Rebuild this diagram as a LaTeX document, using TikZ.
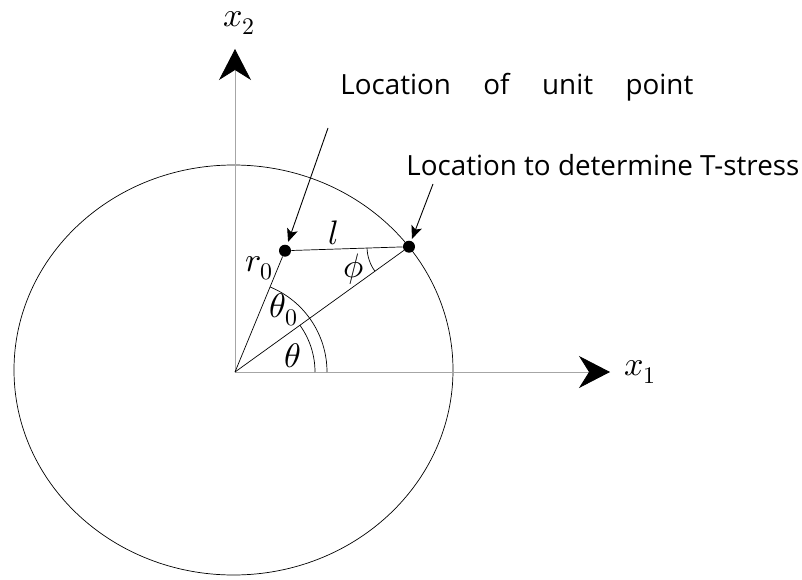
\documentclass[tikz,border=0pt]{standalone}
\usepackage{fontspec}
\usepackage{unicode-math}
\setmainfont{Open Sans}
\usetikzlibrary{arrows.meta}
\tikzset{
    axisline/.style={
        draw=gray!70,
        line width=0.8pt,
        -{Stealth[length=31pt,width=32pt,inset=10pt,color=black]}
    },
    pointer/.style={
        draw=black,
        line width=0.9pt,
        -{Stealth[length=13pt,width=11pt,inset=3pt]}
    },
    marker/.style={
        circle,
        fill=black,
        inner sep=0pt,
        minimum size=12pt
    },
    mathlabel/.style={
        font=\fontsize{34}{38}\selectfont,
        inner sep=1pt
    },
    notelabel/.style={
        font=\fontsize{27.8}{32}\selectfont,
        inner sep=0pt,
        anchor=base west
    }
}

\begin{document}
\begin{tikzpicture}[x=1pt,y=1pt,line width=0.7pt]
\useasboundingbox (-235,-207) rectangle (567,372);

% ---------------------------------------------------------
% Boundary and axes
% ---------------------------------------------------------
\coordinate (O) at (0,0);
\coordinate (x1end) at (375,0);
\coordinate (x2end) at (0,323);

\draw (-1.5,2) ellipse [x radius=219.5, y radius=205];

\draw[axisline] (O) -- (x1end);
\draw[axisline] (O) -- (x2end);

\node[mathlabel] (x1lab) at (405,0) {$x_1$};
\node[mathlabel] (x2lab) at (4,349) {$x_2$};

% ---------------------------------------------------------
% Points and triangle
% ---------------------------------------------------------
\node[marker] (unit) at (50,121.3) {};
\node[marker] (tpoint) at (174,125.3) {};

\draw (O) -- (unit);
\draw (unit) -- (tpoint);
\draw (tpoint) -- (O);

% angle arcs
\draw (O) ++(0:80) arc[start angle=0, end angle=35.8, radius=80];
\draw (O) ++(0:92) arc[start angle=0, end angle=67.6, radius=92];
\draw (tpoint.center) ++(181.8:42) arc[start angle=181.8, end angle=215.8, radius=42];

\node[mathlabel] (r0lab) at (24,104) {$r_0$};
\node[mathlabel] (llab) at (99,139) {$l$};
\node[mathlabel] (philab) at (119,103) {$\phi$};
\node[mathlabel] (theta0lab) at (49,62) {$\theta_0$};
\node[mathlabel] (thetalab) at (58,16) {$\theta$};

% ---------------------------------------------------------
% Notes
% ---------------------------------------------------------
\node[notelabel] (unitnote) at (105,277)
    {\makebox[353pt][s]{Location of unit point}};
\node[notelabel] (tnote) at (171,197)
    {Location to determine T-stress};

\coordinate (unitfrom) at (93,244);
\coordinate (tfrom) at (198,188);
\draw[pointer, shorten >=3pt] (unitfrom) -- (unit);
\draw[pointer, shorten >=2pt] (tfrom) -- (tpoint);

\end{tikzpicture}
\end{document}
